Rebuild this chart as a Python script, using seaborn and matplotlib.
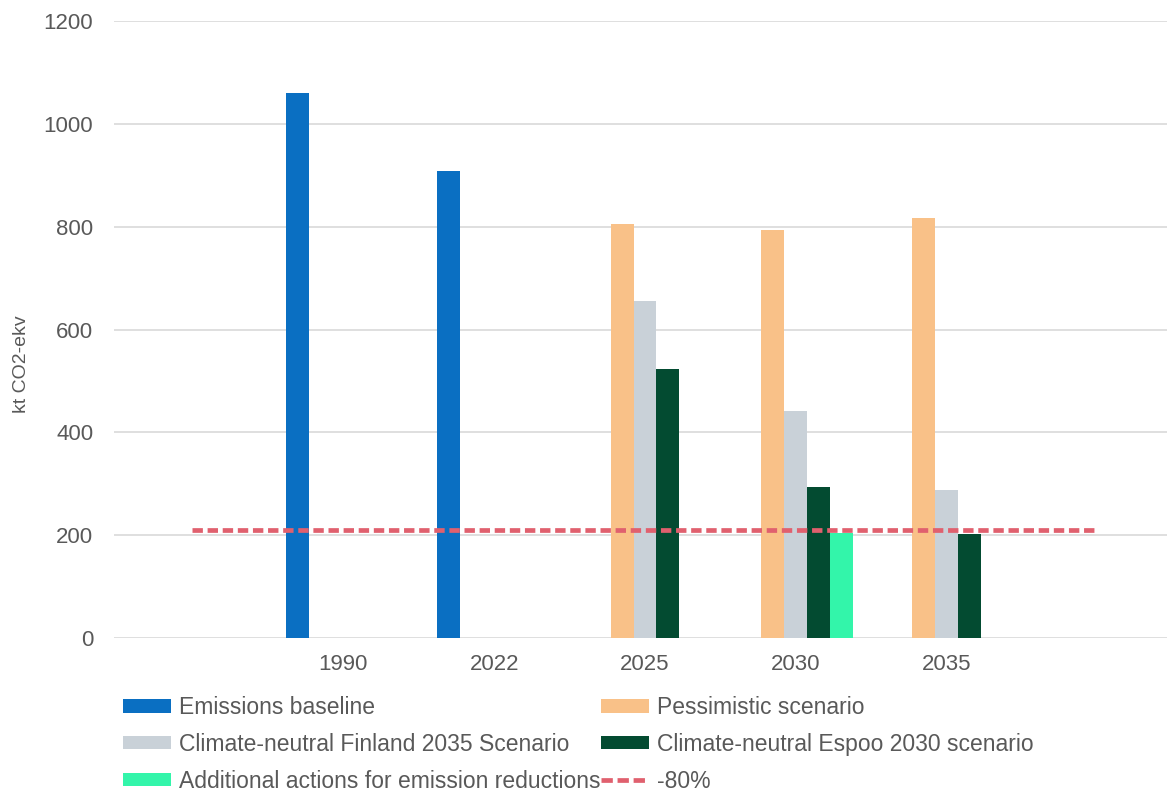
import matplotlib
matplotlib.use("Agg")
import matplotlib.pyplot as plt
from matplotlib.patches import Patch
from matplotlib.lines import Line2D
import seaborn as sns
import pandas as pd

# Category axis: blank slots at both ends so the target line spans past the bars
categories = ["", "1990", "2022", "2025", "2030", "2035", " "]

series = [
    "Emissions baseline",
    "Pessimistic scenario",
    "Climate-neutral Finland 2035 Scenario",
    "Climate-neutral Espoo 2030 scenario",
    "Additional actions for emission reductions",
]

baseline = {"1990": 1060, "2022": 908}
pessimistic = {"2025": 805, "2030": 794, "2035": 816}
finland_2035 = {"2025": 655, "2030": 442, "2035": 288}
espoo_2030 = {"2025": 523, "2030": 294, "2035": 203}
additional = {"2030": 205}

target_label = "-80%"
target_value = 210

colors = ["#0A6FC2", "#F9C188", "#C9D1D8", "#034B31", "#33F5AA"]
target_color = "#E0606E"

rows = []
for name, values in zip(series, [baseline, pessimistic, finland_2035, espoo_2030, additional]):
    for year, v in values.items():
        rows.append({"year": year, "series": name, "value": v})
df = pd.DataFrame(rows)

sns.set_theme(style="white")
plt.rcParams["font.family"] = ["Liberation Sans", "DejaVu Sans"]

fig = plt.figure(figsize=(11.67, 7.94), dpi=100)
ax = fig.add_axes([0.0977, 0.196, 0.9023, 0.778])

sns.barplot(
    data=df, x="year", y="value", hue="series",
    order=categories, hue_order=series, palette=colors,
    width=0.76, saturation=1, dodge=True, ax=ax, legend=False,
    linewidth=0, zorder=2,
)

# -80% reduction target across all category slots
ax.plot(range(len(categories)), [target_value] * len(categories),
        color=target_color, lw=3.4, ls=(0, (2.2, 1.0)), zorder=3)

ax.set_ylim(0, 1200)
ax.set_yticks(range(0, 1201, 200))
ax.set_xlim(-0.52, 6.46)
ax.grid(axis="y", color="#D9D9D9", lw=1.2, zorder=0)
ax.grid(axis="x", visible=False)
for s in ax.spines.values():
    s.set_visible(False)

ax.tick_params(axis="y", length=0, pad=15, labelsize=16, labelcolor="#595959")
ax.tick_params(axis="x", length=0, pad=11, labelsize=16, labelcolor="#595959")
ax.set_xticks(range(len(categories)))
ax.set_xticklabels(categories)
ax.set_xlabel("")
ax.set_ylabel("kt CO2-ekv", fontsize=14, color="#595959")
ax.yaxis.set_label_coords(-0.08, 0.444)

handles = [Patch(facecolor=c, edgecolor="none") for c in colors]
handles.append(Line2D([0], [0], color=target_color, lw=3.4, ls=(0, (2.4, 1.0))))
labels = series + [target_label]

# legend fills column by column; reorder so entries read across rows
order = [0, 2, 4, 1, 3, 5]
fig.legend(
    [handles[i] for i in order], [labels[i] for i in order],
    ncol=2, loc="upper left",
    bbox_to_anchor=(123 / 1167, 1 - 696 / 794),
    frameon=False, fontsize=16.5, handlelength=2.1, handleheight=0.52,
    handletextpad=0.33, columnspacing=0.05, labelspacing=0.6, borderpad=0,
    borderaxespad=0, labelcolor="#595959",
)

fig.savefig("out.png", dpi=100)
